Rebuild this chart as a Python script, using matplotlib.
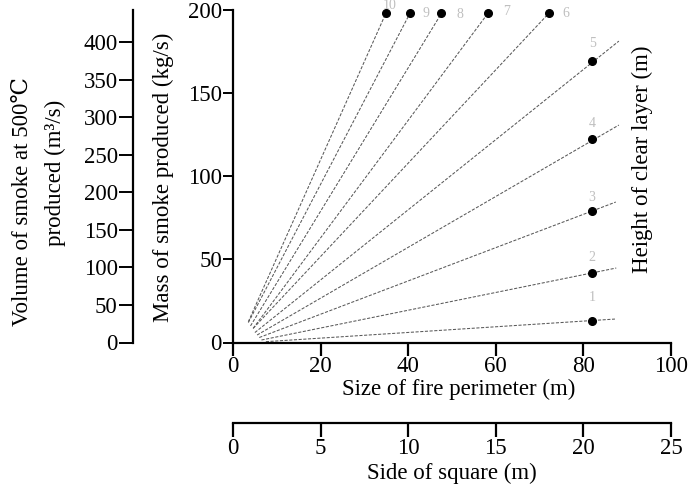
import matplotlib.pyplot as plt

plt.rcParams['font.family'] = ['Liberation Serif', 'DejaVu Serif', 'Noto Sans CJK JP']
plt.rcParams['font.size'] = 16.5

# clear layer height (m) for each line
heights = ['1', '2', '3', '4', '5', '6', '7', '8', '9', '10']
start_x = [7.5, 6.5, 6.0, 5.5, 5.0, 4.6, 4.6, 4.0, 3.5, 3.5]
start_y = [0.5, 1.5, 3.0, 4.5, 6.0, 8.5, 8.5, 10.0, 12.0, 12.5]
end_x = [87.2, 87.5, 87.4, 88.1, 88.1, 72.1, 58.2, 47.6, 40.4, 34.9]
end_y = [14.1, 44.8, 84.5, 130.8, 181.3, 198, 198, 198, 198, 198]
dot_x = [82, 82, 82, 82, 82, 72.1, 58.2, 47.6, 40.4, 34.9]
dot_y = [13.0, 41.6, 79.1, 122.4, 169.3, 198, 198, 198, 198, 198]
lab_x = [82, 82, 82, 82, 82, 75.3, 61.6, 51.1, 43.2, 34.2]
lab_y = [27, 51, 87.5, 132, 180, 198, 199, 197, 198, 203]

W, H = 698, 491
fig = plt.figure(figsize=(W / 100, H / 100), dpi=100)

x0, x1 = 233, 671
y0, y1 = 342.5, 10
ax = fig.add_axes([x0 / W, 1 - y0 / H, (x1 - x0) / W, (y0 - y1) / H])
ax.set_xlim(0, 100)
ax.set_ylim(0, 200)
for s in ['top', 'right']:
    ax.spines[s].set_visible(False)
for s in ['left', 'bottom']:
    ax.spines[s].set_linewidth(1.6)
ax.set_xticks([0, 20, 40, 60, 80, 100])
ax.set_yticks([0, 50, 100, 150, 200])
ax.tick_params(axis='x', length=9, width=1.6, pad=1)
ax.tick_params(axis='y', length=7, width=1.4, pad=1)

for i in range(len(heights)):
    ax.plot([start_x[i], end_x[i]], [start_y[i], end_y[i]], color='0.35',
            lw=0.75, linestyle=(0, (3, 1.5)), clip_on=False)
    ax.plot(dot_x[i], dot_y[i], 'o', color='black', ms=5.5, clip_on=False)
    ax.text(lab_x[i], lab_y[i], heights[i], color='0.75', fontsize=10,
            ha='left' if i >= 5 else 'center', va='center', clip_on=False)

# volume of smoke axis
vol_top = (y0 - y1) / 0.751
axv = fig.add_axes([133 / W, 1 - y0 / H, 0.001, (y0 - y1) / H])
axv.set_ylim(0, vol_top)
axv.set_yticks(range(0, 401, 50))
axv.set_xticks([])
for s in ['top', 'right', 'bottom']:
    axv.spines[s].set_visible(False)
axv.spines['left'].set_linewidth(1.6)
axv.tick_params(axis='y', length=10, width=1.4, pad=1)
axv.patch.set_visible(False)

# side of square axis
axs = fig.add_axes([x0 / W, 1 - 423 / H, (x1 - x0) / W, 0.001])
axs.set_xlim(0, 25)
axs.set_xticks([0, 5, 10, 15, 20, 25])
axs.set_yticks([])
for s in ['top', 'right', 'left']:
    axs.spines[s].set_visible(False)
axs.spines['bottom'].set_linewidth(1.6)
axs.tick_params(axis='x', length=10, width=1.6, pad=1)
axs.patch.set_visible(False)

fig.text(459 / W, 1 - 389 / H, 'Size of fire perimeter (m)', ha='center', va='center')
fig.text(452 / W, 1 - 473 / H, 'Side of square (m)', ha='center', va='center')
fig.text(163 / W, 1 - 177 / H, 'Mass of smoke produced (kg/s)', rotation=90,
         ha='center', va='center')
fig.text(22 / W, 1 - 201 / H, 'Volume of smoke at 500℃', rotation=90,
         ha='center', va='center')
fig.text(55 / W, 1 - 173 / H, 'produced (m³/s)', rotation=90,
         ha='center', va='center')
fig.text(642 / W, 1 - 159 / H, 'Height of clear layer (m)', rotation=90,
         ha='center', va='center')

fig.savefig('out.png', dpi=100)
